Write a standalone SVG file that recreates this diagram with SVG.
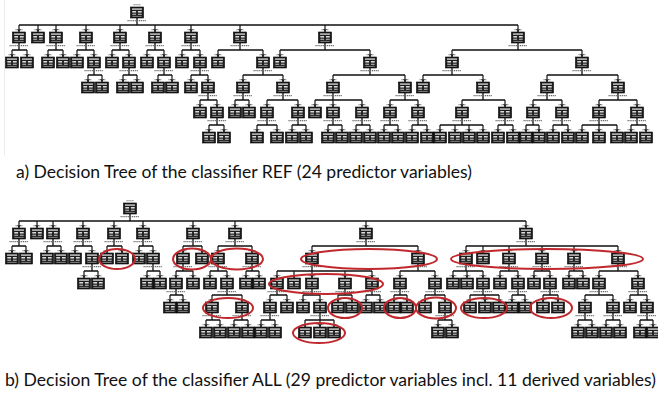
<svg xmlns="http://www.w3.org/2000/svg" xmlns:xlink="http://www.w3.org/1999/xlink" width="658" height="397" viewBox="0 0 658 397">
<style>
  .bar { stroke:#111; stroke-width:1.3; fill:none; }
  .drop path { stroke:#111; stroke-width:1.2; fill:none; marker-end:url(#ah); }
  .lbl { stroke:#6a6a6a; stroke-width:1.1; stroke-dasharray:1.2 0.7; fill:none; }
  .ring { fill:none; stroke:#c0282d; stroke-width:2; }
  .cap { font-family:Lato, "Open Sans", "Liberation Sans", sans-serif; font-size:16.5px; fill:#111; }
</style>
<defs>
  <marker id="ah" markerWidth="4" markerHeight="4" refX="3" refY="2" orient="auto" markerUnits="userSpaceOnUse">
    <path d="M0,0 L3,2 L0,4z" fill="#111"/>
  </marker>
  <!-- node box: dark frame with light table rows -->
  <g id="box">
    <rect width="13" height="11" fill="#1c1c1c" stroke="#000" stroke-width="0.6"/>
    <rect x="1.5" y="1.4" width="10" height="1.4" fill="#cfcfcf"/>
    <rect x="1.8" y="4.1" width="3.8" height="1.4" fill="#f2f2f2"/>
    <rect x="7.4" y="4.1" width="3.8" height="1.4" fill="#f2f2f2"/>
    <rect x="1.8" y="6.7" width="3.8" height="1.1" fill="#bdbdbd"/>
    <rect x="7.4" y="6.7" width="3.8" height="1.1" fill="#bdbdbd"/>
    <rect x="1.8" y="8.9" width="9.4" height="0.8" fill="#9a9a9a"/>
  </g>
  <!-- leaf: box with edge label above -->
  <g id="nt"><use href="#box"/><path class="lbl" d="M3 -2.2H10"/></g>
  <!-- inner node: edge label above, split label below -->
  <g id="ni"><use href="#nt"/><path class="lbl" d="M-3 13.6H16"/></g>
  <!-- root: split label below -->
  <g id="rt"><use href="#box"/><path class="lbl" d="M3 -2.2H10 M-3 13.6H16"/></g>
</defs>

<rect width="658" height="397" fill="#fff"/>
<path d="M4.5 0V155.5" stroke="#ececec" stroke-width="1" fill="none"/>

<!-- ===== connectors ===== -->
<g id="connectors">
  <!-- tree a: bars -->
  <path class="bar" d="M137 18V25M19 25H518
    M19 43V50M12 50H27 M56 43V50M48 50H63 M86 43V50M77 50H94 M120 43V50M112 50H129
    M155 43V50M147 50H164 M191 43V50M182 50H200 M240 43V50M218 50H263 M325 43V50M280 50H370 M518 43V50M452 50H582
    M94 68V75M88 75H102 M129 68V75M123 75H137 M164 68V75M158 75H172 M200 68V75M191 75H208
    M263 68V75M243 75H283 M370 68V75M333 75H405 M452 68V75M423 75H483 M582 68V75M547 75H618
    M208 93V100M200 100H217 M243 93V100M235 100H249 M283 93V100M267 100H298 M333 93V100M315 100H362
    M405 93V100M390 100H418 M483 93V100M462 100H505 M547 93V100M533 100H562 M618 93V100M599 100H637
    M217 118V125M209 125H224 M267 118V125M257 125H277 M298 118V125M292 125H306 M333 118V125M328 125H342
    M362 118V125M356 125H370 M390 118V125M384 125H398 M418 118V125M412 125H427 M462 118V125M440 125H483
    M505 118V125M498 125H513 M533 118V125M526 125H539 M562 118V125M553 125H568 M599 118V125M582 125H617
    M637 118V125M631 125H646"/>
  <!-- tree a: drops -->
  <g class="drop">
    <path d="M19 25V32"/><path d="M38 25V32"/><path d="M56 25V32"/><path d="M86 25V32"/><path d="M120 25V32"/>
    <path d="M155 25V32"/><path d="M191 25V32"/><path d="M240 25V32"/><path d="M325 25V32"/><path d="M518 25V32"/>
    <path d="M12 50V57"/><path d="M27 50V57"/><path d="M48 50V57"/><path d="M63 50V57"/><path d="M77 50V57"/>
    <path d="M94 50V57"/><path d="M112 50V57"/><path d="M129 50V57"/><path d="M147 50V57"/><path d="M164 50V57"/>
    <path d="M182 50V57"/><path d="M200 50V57"/><path d="M218 50V57"/><path d="M263 50V57"/><path d="M280 50V57"/>
    <path d="M370 50V57"/><path d="M452 50V57"/><path d="M582 50V57"/>
    <path d="M88 75V82"/><path d="M102 75V82"/><path d="M123 75V82"/><path d="M137 75V82"/><path d="M158 75V82"/>
    <path d="M172 75V82"/><path d="M191 75V82"/><path d="M208 75V82"/><path d="M243 75V82"/><path d="M283 75V82"/>
    <path d="M333 75V82"/><path d="M405 75V82"/><path d="M423 75V82"/><path d="M483 75V82"/><path d="M547 75V82"/>
    <path d="M618 75V82"/>
    <path d="M200 100V107"/><path d="M217 100V107"/><path d="M235 100V107"/><path d="M249 100V107"/><path d="M267 100V107"/>
    <path d="M298 100V107"/><path d="M315 100V107"/><path d="M333 100V107"/><path d="M362 100V107"/><path d="M390 100V107"/>
    <path d="M418 100V107"/><path d="M462 100V107"/><path d="M505 100V107"/><path d="M533 100V107"/><path d="M562 100V107"/>
    <path d="M599 100V107"/><path d="M637 100V107"/>
    <path d="M209 125V132"/><path d="M224 125V132"/><path d="M257 125V132"/><path d="M277 125V132"/><path d="M292 125V132"/>
    <path d="M306 125V132"/><path d="M328 125V132"/><path d="M342 125V132"/><path d="M356 125V132"/><path d="M370 125V132"/>
    <path d="M384 125V132"/><path d="M398 125V132"/><path d="M412 125V132"/><path d="M427 125V132"/><path d="M440 125V132"/>
    <path d="M455 125V132"/><path d="M469 125V132"/><path d="M483 125V132"/><path d="M498 125V132"/><path d="M513 125V132"/>
    <path d="M526 125V132"/><path d="M539 125V132"/><path d="M553 125V132"/><path d="M568 125V132"/><path d="M582 125V132"/>
    <path d="M599 125V132"/><path d="M617 125V132"/><path d="M631 125V132"/><path d="M646 125V132"/>
  </g>

  <!-- tree b: bars -->
  <path class="bar" d="M130 214V221M19 221H526
    M19 239V246M12 246H26 M53 239V246M47 246H61 M83 239V246M75 246H92 M114 239V246M107 246H122
    M143 239V246M139 246H153 M193 239V246M183 246H202 M235 239V246M218 246H252 M366 239V246M312 246H418
    M526 239V246M466 246H618
    M92 264V271M84 271H98 M153 264V271M147 271H160 M183 264V271M176 271H193 M218 264V271M210 271H227
    M252 264V271M246 271H259 M312 264V271M277 271H372 M418 264V271M400 271H435 M466 264V271M453 271H483
    M509 264V271M500 271H518 M542 264V271M534 271H550 M574 264V271M569 271H583 M618 264V271M599 271H638
    M176 289V295M170 295H183 M227 289V295M212 295H242 M277 289V295M270 295H287 M312 289V295M303 295H320
    M345 289V295M338 295H352 M372 289V295M366 295H380 M400 289V295M394 295H407 M435 289V295M425 295H445
    M483 289V295M470 295H499 M518 289V295M512 295H525 M550 289V295M543 295H558 M599 289V295M585 295H613
    M638 289V295M630 295H647
    M212 313V320M206 320H220 M242 313V320M234 320H248 M270 313V320M261 320H275 M320 313V320M305 320H334
    M445 313V320M438 320H452 M585 313V320M578 320H592 M613 313V320M606 320H620 M647 313V320M640 320H653"/>
  <!-- tree b: drops -->
  <g class="drop">
    <path d="M19 221V228"/><path d="M37 221V228"/><path d="M53 221V228"/><path d="M83 221V228"/><path d="M114 221V228"/>
    <path d="M143 221V228"/><path d="M193 221V228"/><path d="M235 221V228"/><path d="M366 221V228"/><path d="M526 221V228"/>
    <path d="M12 246V253"/><path d="M26 246V253"/><path d="M47 246V253"/><path d="M61 246V253"/><path d="M75 246V253"/>
    <path d="M92 246V253"/><path d="M107 246V253"/><path d="M122 246V253"/><path d="M139 246V253"/><path d="M153 246V253"/>
    <path d="M183 246V253"/><path d="M202 246V253"/><path d="M218 246V253"/><path d="M252 246V253"/><path d="M312 246V253"/>
    <path d="M418 246V253"/><path d="M466 246V253"/><path d="M483 246V253"/><path d="M509 246V253"/><path d="M542 246V253"/>
    <path d="M574 246V253"/><path d="M618 246V253"/>
    <path d="M84 271V278"/><path d="M98 271V278"/><path d="M147 271V278"/><path d="M160 271V278"/><path d="M176 271V278"/>
    <path d="M193 271V278"/><path d="M210 271V278"/><path d="M227 271V278"/><path d="M246 271V278"/><path d="M259 271V278"/>
    <path d="M277 271V278"/><path d="M294 271V278"/><path d="M312 271V278"/><path d="M345 271V278"/><path d="M372 271V278"/>
    <path d="M400 271V278"/><path d="M435 271V278"/><path d="M453 271V278"/><path d="M467 271V278"/><path d="M483 271V278"/>
    <path d="M500 271V278"/><path d="M518 271V278"/><path d="M534 271V278"/><path d="M550 271V278"/><path d="M569 271V278"/>
    <path d="M583 271V278"/><path d="M599 271V278"/><path d="M638 271V278"/>
    <path d="M170 295V302"/><path d="M183 295V302"/><path d="M212 295V302"/><path d="M242 295V302"/><path d="M270 295V302"/>
    <path d="M287 295V302"/><path d="M303 295V302"/><path d="M320 295V302"/><path d="M338 295V302"/><path d="M352 295V302"/>
    <path d="M366 295V302"/><path d="M380 295V302"/><path d="M394 295V302"/><path d="M407 295V302"/><path d="M425 295V302"/>
    <path d="M445 295V302"/><path d="M470 295V302"/><path d="M485 295V302"/><path d="M499 295V302"/><path d="M512 295V302"/>
    <path d="M525 295V302"/><path d="M543 295V302"/><path d="M558 295V302"/><path d="M585 295V302"/><path d="M613 295V302"/>
    <path d="M630 295V302"/><path d="M647 295V302"/>
    <path d="M206 320V327"/><path d="M220 320V327"/><path d="M234 320V327"/><path d="M248 320V327"/><path d="M261 320V327"/>
    <path d="M275 320V327"/><path d="M305 320V327"/><path d="M320 320V327"/><path d="M334 320V327"/><path d="M438 320V327"/>
    <path d="M452 320V327"/><path d="M578 320V327"/><path d="M592 320V327"/><path d="M606 320V327"/><path d="M620 320V327"/>
    <path d="M640 320V327"/><path d="M653 320V327"/>
  </g>
</g>

<!-- ===== tree a: classifier REF ===== -->
<g id="treeA">
  <g id="a0-137"><use href="#rt" x="130.5" y="7"/></g>
  <g id="a1-19"><use href="#ni" x="12.5" y="32"/></g>
  <g id="a1-38"><use href="#nt" x="31.5" y="32"/></g>
  <g id="a1-56"><use href="#ni" x="49.5" y="32"/></g>
  <g id="a1-86"><use href="#ni" x="79.5" y="32"/></g>
  <g id="a1-120"><use href="#ni" x="113.5" y="32"/></g>
  <g id="a1-155"><use href="#ni" x="148.5" y="32"/></g>
  <g id="a1-191"><use href="#ni" x="184.5" y="32"/></g>
  <g id="a1-240"><use href="#ni" x="233.5" y="32"/></g>
  <g id="a1-325"><use href="#ni" x="318.5" y="32"/></g>
  <g id="a1-518"><use href="#ni" x="511.5" y="32"/></g>

  <g id="a2-12"><use href="#nt" x="5.5" y="57"/></g>
  <g id="a2-27"><use href="#nt" x="20.5" y="57"/></g>
  <g id="a2-48"><use href="#nt" x="41.5" y="57"/></g>
  <g id="a2-63"><use href="#nt" x="56.5" y="57"/></g>
  <g id="a2-77"><use href="#nt" x="70.5" y="57"/></g>
  <g id="a2-94"><use href="#ni" x="87.5" y="57"/></g>
  <g id="a2-112"><use href="#nt" x="105.5" y="57"/></g>
  <g id="a2-129"><use href="#ni" x="122.5" y="57"/></g>
  <g id="a2-147"><use href="#nt" x="140.5" y="57"/></g>
  <g id="a2-164"><use href="#ni" x="157.5" y="57"/></g>
  <g id="a2-182"><use href="#nt" x="175.5" y="57"/></g>
  <g id="a2-200"><use href="#ni" x="193.5" y="57"/></g>
  <g id="a2-218"><use href="#nt" x="211.5" y="57"/></g>
  <g id="a2-263"><use href="#ni" x="256.5" y="57"/></g>
  <g id="a2-280"><use href="#nt" x="273.5" y="57"/></g>
  <g id="a2-370"><use href="#ni" x="363.5" y="57"/></g>
  <g id="a2-452"><use href="#ni" x="445.5" y="57"/></g>
  <g id="a2-582"><use href="#ni" x="575.5" y="57"/></g>

  <g id="a3-88"><use href="#nt" x="81.5" y="82"/></g>
  <g id="a3-102"><use href="#nt" x="95.5" y="82"/></g>
  <g id="a3-123"><use href="#nt" x="116.5" y="82"/></g>
  <g id="a3-137"><use href="#nt" x="130.5" y="82"/></g>
  <g id="a3-158"><use href="#nt" x="151.5" y="82"/></g>
  <g id="a3-172"><use href="#nt" x="165.5" y="82"/></g>
  <g id="a3-191"><use href="#nt" x="184.5" y="82"/></g>
  <g id="a3-208"><use href="#ni" x="201.5" y="82"/></g>
  <g id="a3-243"><use href="#ni" x="236.5" y="82"/></g>
  <g id="a3-283"><use href="#ni" x="276.5" y="82"/></g>
  <g id="a3-333"><use href="#ni" x="326.5" y="82"/></g>
  <g id="a3-405"><use href="#ni" x="398.5" y="82"/></g>
  <g id="a3-423"><use href="#nt" x="416.5" y="82"/></g>
  <g id="a3-483"><use href="#ni" x="476.5" y="82"/></g>
  <g id="a3-547"><use href="#ni" x="540.5" y="82"/></g>
  <g id="a3-618"><use href="#ni" x="611.5" y="82"/></g>

  <g id="a4-200"><use href="#nt" x="193.5" y="107"/></g>
  <g id="a4-217"><use href="#ni" x="210.5" y="107"/></g>
  <g id="a4-235"><use href="#nt" x="228.5" y="107"/></g>
  <g id="a4-249"><use href="#nt" x="242.5" y="107"/></g>
  <g id="a4-267"><use href="#ni" x="260.5" y="107"/></g>
  <g id="a4-298"><use href="#ni" x="291.5" y="107"/></g>
  <g id="a4-315"><use href="#nt" x="308.5" y="107"/></g>
  <g id="a4-333"><use href="#ni" x="326.5" y="107"/></g>
  <g id="a4-362"><use href="#ni" x="355.5" y="107"/></g>
  <g id="a4-390"><use href="#ni" x="383.5" y="107"/></g>
  <g id="a4-418"><use href="#ni" x="411.5" y="107"/></g>
  <g id="a4-462"><use href="#ni" x="455.5" y="107"/></g>
  <g id="a4-505"><use href="#ni" x="498.5" y="107"/></g>
  <g id="a4-533"><use href="#ni" x="526.5" y="107"/></g>
  <g id="a4-562"><use href="#ni" x="555.5" y="107"/></g>
  <g id="a4-599"><use href="#ni" x="592.5" y="107"/></g>
  <g id="a4-637"><use href="#ni" x="630.5" y="107"/></g>

  <g id="a5-209"><use href="#nt" x="202.5" y="132"/></g>
  <g id="a5-224"><use href="#nt" x="217.5" y="132"/></g>
  <g id="a5-257"><use href="#nt" x="250.5" y="132"/></g>
  <g id="a5-277"><use href="#nt" x="270.5" y="132"/></g>
  <g id="a5-292"><use href="#nt" x="285.5" y="132"/></g>
  <g id="a5-306"><use href="#nt" x="299.5" y="132"/></g>
  <g id="a5-328"><use href="#nt" x="321.5" y="132"/></g>
  <g id="a5-342"><use href="#nt" x="335.5" y="132"/></g>
  <g id="a5-356"><use href="#nt" x="349.5" y="132"/></g>
  <g id="a5-370"><use href="#nt" x="363.5" y="132"/></g>
  <g id="a5-384"><use href="#nt" x="377.5" y="132"/></g>
  <g id="a5-398"><use href="#nt" x="391.5" y="132"/></g>
  <g id="a5-412"><use href="#nt" x="405.5" y="132"/></g>
  <g id="a5-427"><use href="#nt" x="420.5" y="132"/></g>
  <g id="a5-440"><use href="#nt" x="433.5" y="132"/></g>
  <g id="a5-455"><use href="#nt" x="448.5" y="132"/></g>
  <g id="a5-469"><use href="#nt" x="462.5" y="132"/></g>
  <g id="a5-483"><use href="#nt" x="476.5" y="132"/></g>
  <g id="a5-498"><use href="#nt" x="491.5" y="132"/></g>
  <g id="a5-513"><use href="#nt" x="506.5" y="132"/></g>
  <g id="a5-526"><use href="#nt" x="519.5" y="132"/></g>
  <g id="a5-539"><use href="#nt" x="532.5" y="132"/></g>
  <g id="a5-553"><use href="#nt" x="546.5" y="132"/></g>
  <g id="a5-568"><use href="#nt" x="561.5" y="132"/></g>
  <g id="a5-582"><use href="#nt" x="575.5" y="132"/></g>
  <g id="a5-599"><use href="#nt" x="592.5" y="132"/></g>
  <g id="a5-617"><use href="#nt" x="610.5" y="132"/></g>
  <g id="a5-631"><use href="#nt" x="624.5" y="132"/></g>
  <g id="a5-646"><use href="#nt" x="639.5" y="132"/></g>
</g>

<!-- ===== tree b: classifier ALL ===== -->
<g id="treeB">
  <g id="b0-130"><use href="#rt" x="123.5" y="203"/></g>
  <g id="b1-19"><use href="#ni" x="12.5" y="228"/></g>
  <g id="b1-37"><use href="#nt" x="30.5" y="228"/></g>
  <g id="b1-53"><use href="#ni" x="46.5" y="228"/></g>
  <g id="b1-83"><use href="#ni" x="76.5" y="228"/></g>
  <g id="b1-114"><use href="#ni" x="107.5" y="228"/></g>
  <g id="b1-143"><use href="#ni" x="136.5" y="228"/></g>
  <g id="b1-193"><use href="#ni" x="186.5" y="228"/></g>
  <g id="b1-235"><use href="#ni" x="228.5" y="228"/></g>
  <g id="b1-366"><use href="#ni" x="359.5" y="228"/></g>
  <g id="b1-526"><use href="#ni" x="519.5" y="228"/></g>

  <g id="b2-12"><use href="#nt" x="5.5" y="253"/></g>
  <g id="b2-26"><use href="#nt" x="19.5" y="253"/></g>
  <g id="b2-47"><use href="#nt" x="40.5" y="253"/></g>
  <g id="b2-61"><use href="#nt" x="54.5" y="253"/></g>
  <g id="b2-75"><use href="#nt" x="68.5" y="253"/></g>
  <g id="b2-92"><use href="#ni" x="85.5" y="253"/></g>
  <g id="b2-107"><use href="#nt" x="100.5" y="253"/></g>
  <g id="b2-122"><use href="#nt" x="115.5" y="253"/></g>
  <g id="b2-139"><use href="#nt" x="132.5" y="253"/></g>
  <g id="b2-153"><use href="#ni" x="146.5" y="253"/></g>
  <g id="b2-183"><use href="#ni" x="176.5" y="253"/></g>
  <g id="b2-202"><use href="#nt" x="195.5" y="253"/></g>
  <g id="b2-218"><use href="#ni" x="211.5" y="253"/></g>
  <g id="b2-252"><use href="#ni" x="245.5" y="253"/></g>
  <g id="b2-312"><use href="#ni" x="305.5" y="253"/></g>
  <g id="b2-418"><use href="#ni" x="411.5" y="253"/></g>
  <g id="b2-466"><use href="#ni" x="459.5" y="253"/></g>
  <g id="b2-483"><use href="#nt" x="476.5" y="253"/></g>
  <g id="b2-509"><use href="#ni" x="502.5" y="253"/></g>
  <g id="b2-542"><use href="#ni" x="535.5" y="253"/></g>
  <g id="b2-574"><use href="#ni" x="567.5" y="253"/></g>
  <g id="b2-618"><use href="#ni" x="611.5" y="253"/></g>

  <g id="b3-84"><use href="#nt" x="77.5" y="278"/></g>
  <g id="b3-98"><use href="#nt" x="91.5" y="278"/></g>
  <g id="b3-147"><use href="#nt" x="140.5" y="278"/></g>
  <g id="b3-160"><use href="#nt" x="153.5" y="278"/></g>
  <g id="b3-176"><use href="#ni" x="169.5" y="278"/></g>
  <g id="b3-193"><use href="#nt" x="186.5" y="278"/></g>
  <g id="b3-210"><use href="#nt" x="203.5" y="278"/></g>
  <g id="b3-227"><use href="#ni" x="220.5" y="278"/></g>
  <g id="b3-246"><use href="#nt" x="239.5" y="278"/></g>
  <g id="b3-259"><use href="#nt" x="252.5" y="278"/></g>
  <g id="b3-277"><use href="#ni" x="270.5" y="278"/></g>
  <g id="b3-294"><use href="#nt" x="287.5" y="278"/></g>
  <g id="b3-312"><use href="#ni" x="305.5" y="278"/></g>
  <g id="b3-345"><use href="#ni" x="338.5" y="278"/></g>
  <g id="b3-372"><use href="#ni" x="365.5" y="278"/></g>
  <g id="b3-400"><use href="#ni" x="393.5" y="278"/></g>
  <g id="b3-435"><use href="#ni" x="428.5" y="278"/></g>
  <g id="b3-453"><use href="#nt" x="446.5" y="278"/></g>
  <g id="b3-467"><use href="#nt" x="460.5" y="278"/></g>
  <g id="b3-483"><use href="#ni" x="476.5" y="278"/></g>
  <g id="b3-500"><use href="#nt" x="493.5" y="278"/></g>
  <g id="b3-518"><use href="#ni" x="511.5" y="278"/></g>
  <g id="b3-534"><use href="#nt" x="527.5" y="278"/></g>
  <g id="b3-550"><use href="#ni" x="543.5" y="278"/></g>
  <g id="b3-569"><use href="#nt" x="562.5" y="278"/></g>
  <g id="b3-583"><use href="#nt" x="576.5" y="278"/></g>
  <g id="b3-599"><use href="#ni" x="592.5" y="278"/></g>
  <g id="b3-638"><use href="#ni" x="631.5" y="278"/></g>

  <g id="b4-170"><use href="#nt" x="163.5" y="302"/></g>
  <g id="b4-183"><use href="#nt" x="176.5" y="302"/></g>
  <g id="b4-212"><use href="#ni" x="205.5" y="302"/></g>
  <g id="b4-242"><use href="#ni" x="235.5" y="302"/></g>
  <g id="b4-270"><use href="#ni" x="263.5" y="302"/></g>
  <g id="b4-287"><use href="#nt" x="280.5" y="302"/></g>
  <g id="b4-303"><use href="#nt" x="296.5" y="302"/></g>
  <g id="b4-320"><use href="#ni" x="313.5" y="302"/></g>
  <g id="b4-338"><use href="#nt" x="331.5" y="302"/></g>
  <g id="b4-352"><use href="#nt" x="345.5" y="302"/></g>
  <g id="b4-366"><use href="#nt" x="359.5" y="302"/></g>
  <g id="b4-380"><use href="#nt" x="373.5" y="302"/></g>
  <g id="b4-394"><use href="#nt" x="387.5" y="302"/></g>
  <g id="b4-407"><use href="#nt" x="400.5" y="302"/></g>
  <g id="b4-425"><use href="#nt" x="418.5" y="302"/></g>
  <g id="b4-445"><use href="#ni" x="438.5" y="302"/></g>
  <g id="b4-470"><use href="#nt" x="463.5" y="302"/></g>
  <g id="b4-485"><use href="#nt" x="478.5" y="302"/></g>
  <g id="b4-499"><use href="#nt" x="492.5" y="302"/></g>
  <g id="b4-512"><use href="#nt" x="505.5" y="302"/></g>
  <g id="b4-525"><use href="#nt" x="518.5" y="302"/></g>
  <g id="b4-543"><use href="#nt" x="536.5" y="302"/></g>
  <g id="b4-558"><use href="#nt" x="551.5" y="302"/></g>
  <g id="b4-585"><use href="#ni" x="578.5" y="302"/></g>
  <g id="b4-613"><use href="#ni" x="606.5" y="302"/></g>
  <g id="b4-630"><use href="#nt" x="623.5" y="302"/></g>
  <g id="b4-647"><use href="#ni" x="640.5" y="302"/></g>

  <g id="b5-206"><use href="#nt" x="199.5" y="327"/></g>
  <g id="b5-220"><use href="#nt" x="213.5" y="327"/></g>
  <g id="b5-234"><use href="#nt" x="227.5" y="327"/></g>
  <g id="b5-248"><use href="#nt" x="241.5" y="327"/></g>
  <g id="b5-261"><use href="#nt" x="254.5" y="327"/></g>
  <g id="b5-275"><use href="#nt" x="268.5" y="327"/></g>
  <g id="b5-305"><use href="#nt" x="298.5" y="327"/></g>
  <g id="b5-320"><use href="#nt" x="313.5" y="327"/></g>
  <g id="b5-334"><use href="#nt" x="327.5" y="327"/></g>
  <g id="b5-438"><use href="#nt" x="431.5" y="327"/></g>
  <g id="b5-452"><use href="#nt" x="445.5" y="327"/></g>
  <g id="b5-578"><use href="#nt" x="571.5" y="327"/></g>
  <g id="b5-592"><use href="#nt" x="585.5" y="327"/></g>
  <g id="b5-606"><use href="#nt" x="599.5" y="327"/></g>
  <g id="b5-620"><use href="#nt" x="613.5" y="327"/></g>
  <g id="b5-640"><use href="#nt" x="633.5" y="327"/></g>
  <g id="b5-653"><use href="#nt" x="646.5" y="327"/></g>
</g>

<!-- highlighted groups of nodes in tree b -->
<g id="highlights">
  <ellipse class="ring" cx="117" cy="259" rx="18" ry="10"/>
  <ellipse class="ring" cx="192" cy="259" rx="19" ry="10.5"/>
  <ellipse class="ring" cx="237" cy="259" rx="26" ry="10.5"/>
  <ellipse class="ring" cx="369" cy="259" rx="68" ry="10"/>
  <ellipse class="ring" cx="547" cy="259" rx="96" ry="10"/>
  <ellipse class="ring" cx="326" cy="284" rx="57" ry="10"/>
  <ellipse class="ring" cx="228" cy="308" rx="25" ry="10"/>
  <ellipse class="ring" cx="345" cy="308" rx="17" ry="10"/>
  <ellipse class="ring" cx="400" cy="308" rx="16" ry="10"/>
  <ellipse class="ring" cx="436" cy="308" rx="20" ry="10.5"/>
  <ellipse class="ring" cx="484" cy="308" rx="23" ry="10"/>
  <ellipse class="ring" cx="551" cy="308" rx="21" ry="10"/>
  <ellipse class="ring" cx="319" cy="333" rx="26" ry="10"/>
</g>

<text class="cap" x="16" y="178" textLength="456" lengthAdjust="spacingAndGlyphs">a) Decision Tree of the classifier REF (24 predictor variables)</text>
<text class="cap" x="5" y="386" textLength="651" lengthAdjust="spacingAndGlyphs">b) Decision Tree of the classifier ALL (29 predictor variables incl. 11 derived variables)</text>
</svg>
